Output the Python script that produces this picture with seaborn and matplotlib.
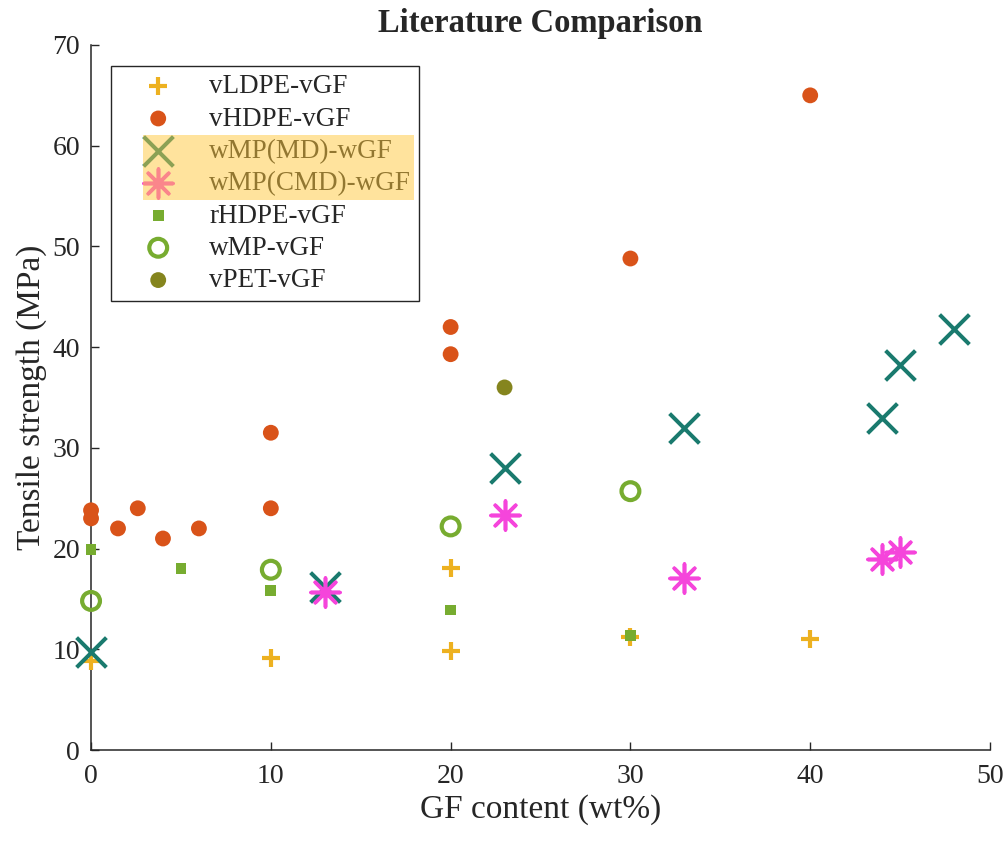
import matplotlib
matplotlib.use("Agg")
import matplotlib.pyplot as plt
import seaborn as sns
import pandas as pd
from matplotlib.patches import Rectangle

# Tensile strength (MPa) vs GF content (wt%)
vldpe_x = [0, 10, 20, 20, 30, 40]
vldpe_y = [8.8, 9.1, 18.1, 9.8, 11.2, 11.0]

vhdpe_x = [0, 0, 1.5, 2.6, 4, 6, 10, 10, 20, 20, 30, 40]
vhdpe_y = [23.8, 23.0, 22.0, 24.0, 21.0, 22.0, 31.5, 24.0, 42.0, 39.3, 48.8, 65.0]

md_x = [0, 13, 23, 33, 44, 45, 48]
md_y = [9.7, 16.2, 28.0, 32.0, 33.0, 38.2, 41.8]

cmd_x = [13, 23, 33, 44, 45]
cmd_y = [15.7, 23.3, 17.1, 19.0, 19.7]

rhdpe_x = [0, 5, 10, 20, 30]
rhdpe_y = [19.9, 18.0, 15.8, 13.9, 11.4]

wmp_x = [0, 10, 20, 30]
wmp_y = [14.8, 17.9, 22.2, 25.7]

vpet_x = [23]
vpet_y = [36.0]

series = [
    # name, x, y, marker, color, size, linewidth, filled
    ("vLDPE-vGF", vldpe_x, vldpe_y, "+", "#EDB120", 150, 3.0, True),
    ("vHDPE-vGF", vhdpe_x, vhdpe_y, "o", "#D95319", 130, 0, True),
    ("wMP(MD)-wGF", md_x, md_y, "x", "#1A7A6E", 460, 2.9, True),
    ("wMP(CMD)-wGF", cmd_x, cmd_y, (8, 2, 0), "#F545DB", 430, 2.6, True),
    ("rHDPE-vGF", rhdpe_x, rhdpe_y, "s", "#77AC30", 60, 0, True),
    ("wMP-vGF", wmp_x, wmp_y, "o", "#77AC30", 165, 3.0, False),
    ("vPET-vGF", vpet_x, vpet_y, "o", "#85851E", 130, 0, True),
]

sns.set_style("ticks")
plt.rcParams["font.family"] = ["Liberation Serif", "DejaVu Serif"]
plt.rcParams["axes.edgecolor"] = "#262626"
plt.rcParams["xtick.color"] = "#262626"
plt.rcParams["ytick.color"] = "#262626"

fig = plt.figure(figsize=(10.06, 8.41), dpi=100)
ax = fig.add_axes([0.0905, 0.1082, 0.8936, 0.8383])

for name, xs, ys, mk, col, s, lw, filled in series:
    df = pd.DataFrame({"x": xs, "y": ys})
    if filled:
        sns.scatterplot(data=df, x="x", y="y", marker=mk, s=s, color=col,
                        linewidth=lw, edgecolor=col if lw else "none",
                        label=name, ax=ax, zorder=3)
    else:
        sns.scatterplot(data=df, x="x", y="y", marker=mk, s=s,
                        facecolor="none", edgecolor=col, linewidth=lw,
                        label=name, ax=ax, zorder=3)
for coll in ax.collections:
    coll.set_clip_on(False)

ax.set_xlim(0, 50)
ax.set_ylim(0, 70)
ax.set_xticks(range(0, 51, 10))
ax.set_yticks(range(0, 71, 10))
ax.tick_params(direction="in", length=6, width=1, labelsize=20, pad=8)
ax.tick_params(axis="x", pad=10)
for side in ["top", "right"]:
    ax.spines[side].set_visible(False)
for side in ["left", "bottom"]:
    ax.spines[side].set_linewidth(1.1)

ax.set_xlabel("GF content (wt%)", fontsize=24, color="#262626", labelpad=4)
ax.set_ylabel("Tensile strength (MPa)", fontsize=24, color="#262626", labelpad=4)
ax.set_title("Literature Comparison", fontsize=23.5, fontweight="bold", pad=9)

leg = ax.legend(loc="upper left", bbox_to_anchor=(0.022, 0.970), borderaxespad=0,
                fontsize=19.5, frameon=True, fancybox=False, framealpha=1,
                edgecolor="#262626", labelspacing=0.27, handlelength=2.9,
                handletextpad=0.43, borderpad=0.3, scatterpoints=1)
leg.get_frame().set_linewidth(1.0)
for t in leg.get_texts():
    t.set_color("#262626")

# highlight box over the two wMP-wGF legend entries
fig.canvas.draw()
r = fig.canvas.get_renderer()
t2 = leg.get_texts()[2].get_window_extent(r)
t3 = leg.get_texts()[3].get_window_extent(r)
lb = leg.get_window_extent(r)
row = (t2.y0 + t2.y1) / 2 - (t3.y0 + t3.y1) / 2
x0 = lb.x0 + 32
x1 = t3.x1 + 3
y0 = (t3.y0 + t3.y1) / 2 - row / 2
y1 = (t2.y0 + t2.y1) / 2 + row / 2
W, H = fig.bbox.width, fig.bbox.height
fig.add_artist(Rectangle((x0 / W, y0 / H), (x1 - x0) / W, (y1 - y0) / H,
                         transform=fig.transFigure, facecolor="#FFC83C",
                         alpha=0.5, edgecolor="none", zorder=10))

fig.savefig("out.png", dpi=100)
